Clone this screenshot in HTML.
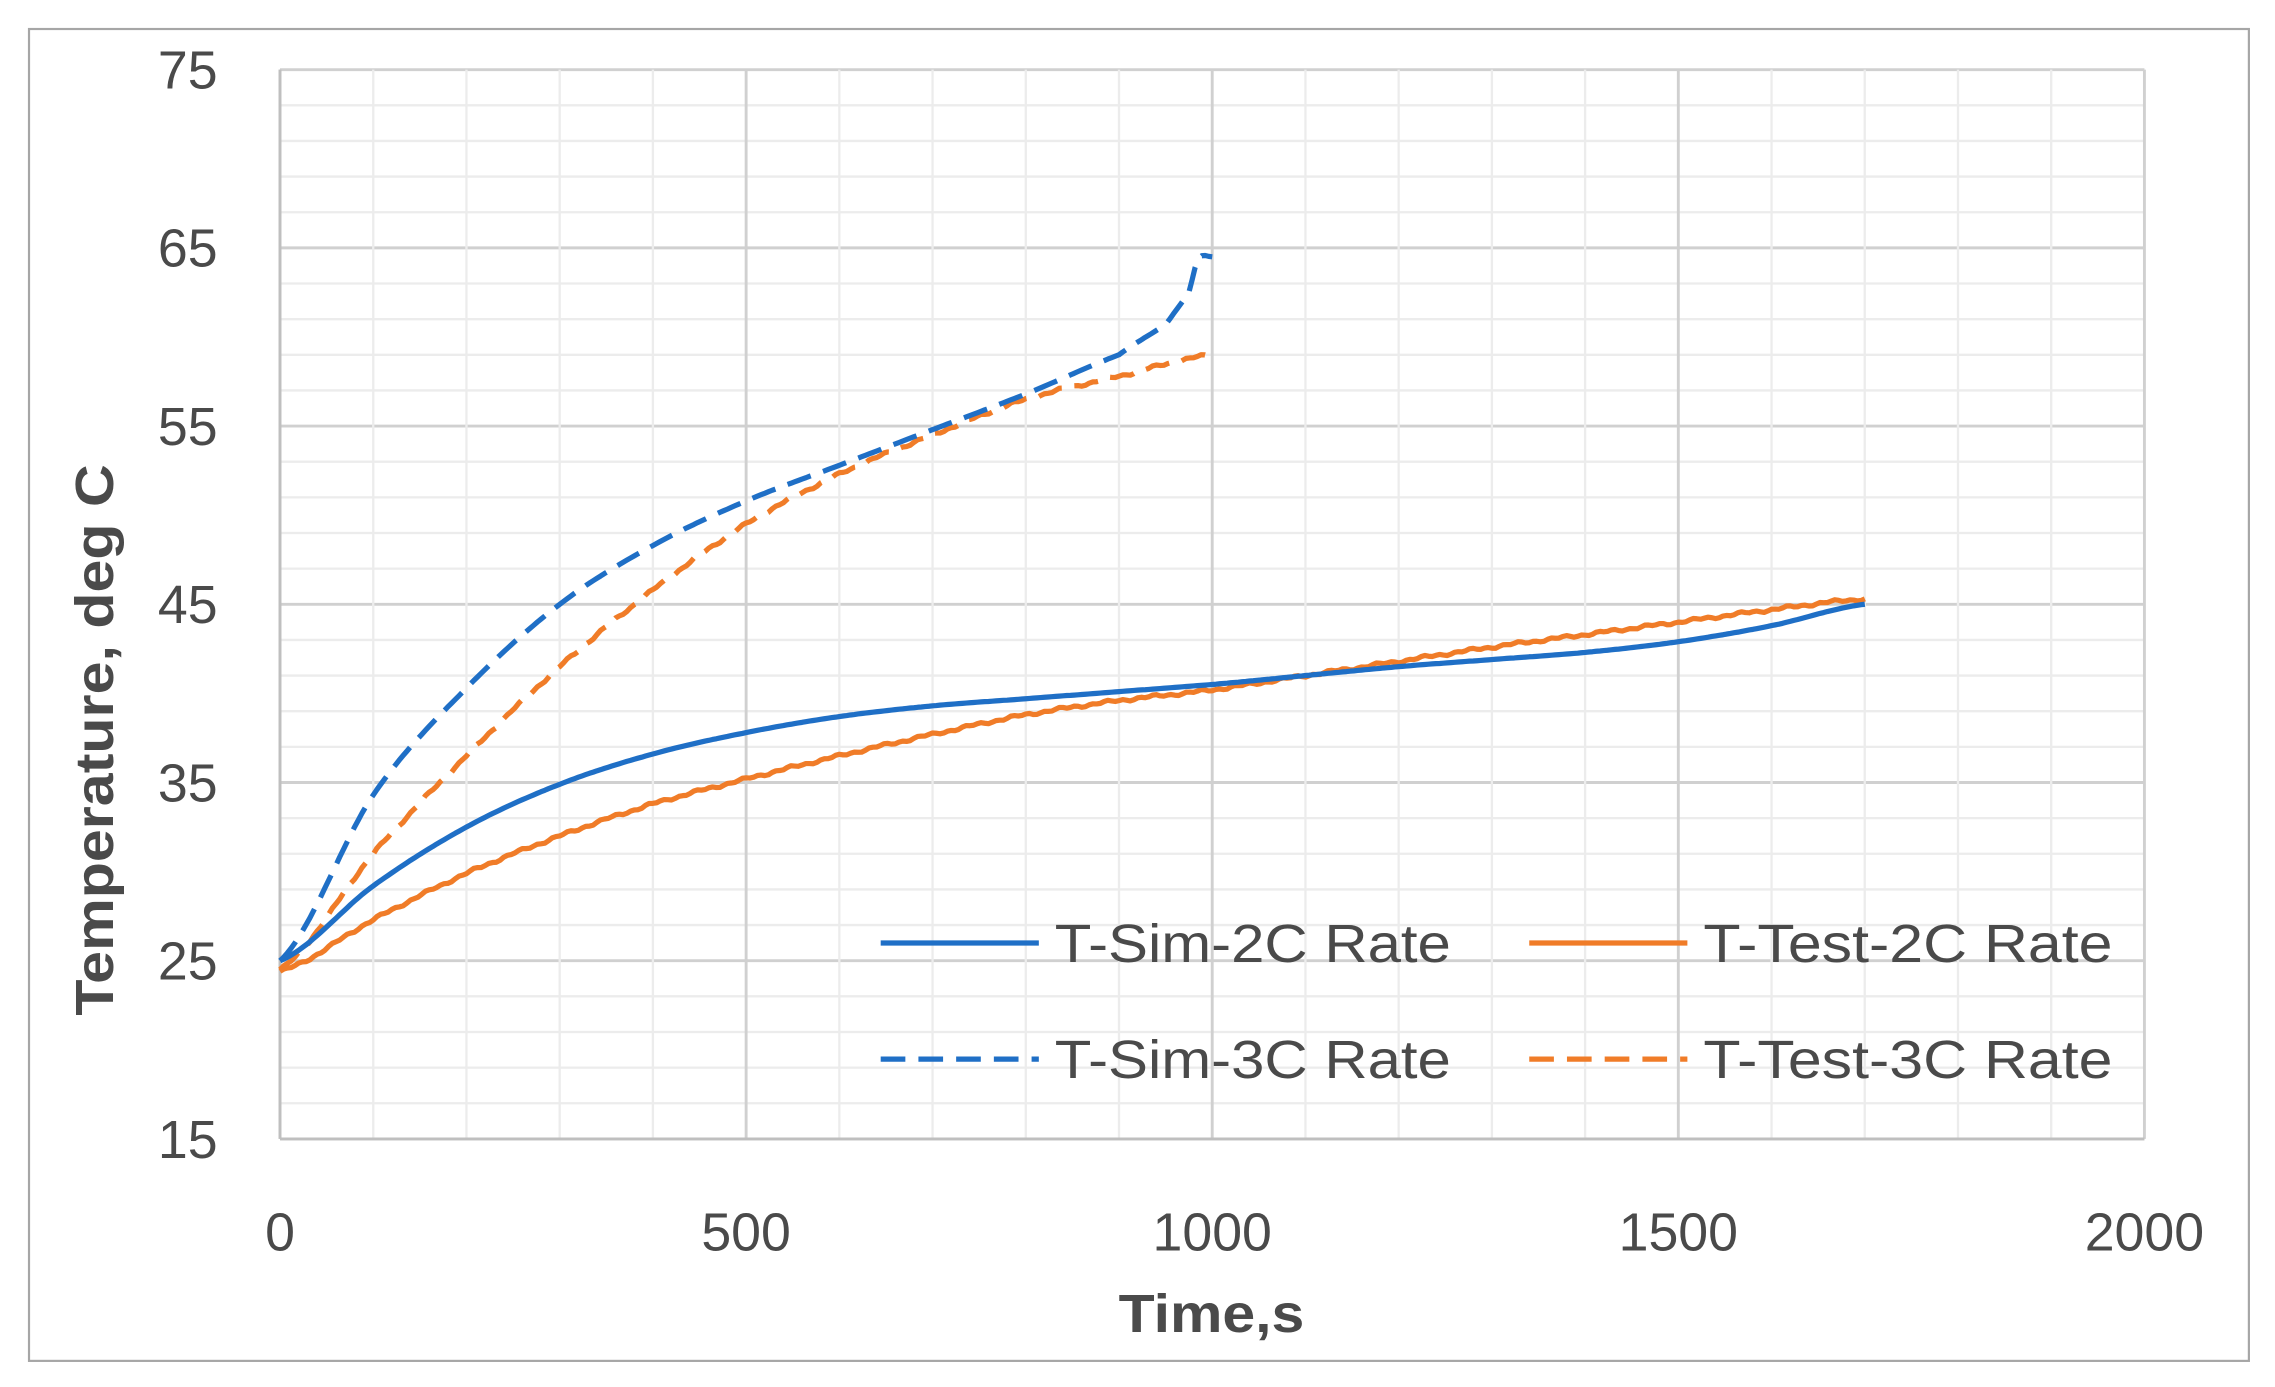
<!DOCTYPE html>
<html><head><meta charset="utf-8"><style>html,body{margin:0;padding:0;background:#fff}svg{display:block}</style></head>
<body>
<svg id="s" width="2275" height="1387" viewBox="0 0 1568 956" preserveAspectRatio="none" xmlns="http://www.w3.org/2000/svg" font-family="Liberation Sans, sans-serif">
<rect x="0" y="0" width="1568" height="956" fill="#fff"/>
<rect x="20" y="20" width="1530" height="918" fill="#fff" stroke="#a6a6a6" stroke-width="1.5"/>
<g id="grid"></g>
<g id="lab" fill="#4a4a4a" font-size="37"></g>
<g id="ser" fill="none" stroke-width="3.6" stroke-linejoin="round" stroke-linecap="butt"></g>
<g id="leg"></g>
</svg>
<script>
var NS="http://www.w3.org/2000/svg";
function X(t){return 193+t*0.6425;}
function Y(T){return 785-(T-15)*12.283;}
function el(p,n,a,txt){var e=document.createElementNS(NS,n);for(var k in a)e.setAttribute(k,a[k]);if(txt!=null)e.textContent=txt;document.getElementById(p).appendChild(e);return e;}
for(var T=15;T<=75;T+=2){var maj=(T-15)%10==0;el("grid","line",{x1:193,x2:1478,y1:Y(T),y2:Y(T),stroke:maj?"#d0d0d0":"#ececec","stroke-width":maj?2:1.6});}
for(var t=0;t<=2000;t+=100){var maj=t%500==0;el("grid","line",{x1:X(t),x2:X(t),y1:48,y2:785,stroke:maj?"#d0d0d0":"#ececec","stroke-width":maj?2:1.6});}
el("grid","line",{x1:193,x2:193,y1:48,y2:785,stroke:"#bfbfbf","stroke-width":2});
el("grid","line",{x1:193,x2:1478,y1:785,y2:785,stroke:"#bfbfbf","stroke-width":2});
for(var T=15;T<=75;T+=10){el("lab","text",{x:150,y:Y(T)+13,"text-anchor":"end"},String(T));}
for(var t=0;t<=2000;t+=500){el("lab","text",{x:X(t),y:862,"text-anchor":"middle"},String(t));}
el("lab","text",{x:835,y:918,"text-anchor":"middle","font-weight":"bold",textLength:128,lengthAdjust:"spacingAndGlyphs"},"Time,s");
el("lab","text",{x:0,y:0,"text-anchor":"middle","font-weight":"bold",transform:"translate(78,510) rotate(-90)",textLength:380,lengthAdjust:"spacingAndGlyphs"},"Temperature, deg C");
function interp(pts,step,noise){var out=[];for(var i=0;i<pts.length-1;i++){var a=pts[i],b=pts[i+1];var p0=pts[Math.max(0,i-1)],p3=pts[Math.min(pts.length-1,i+2)];var n=Math.max(1,Math.round((b[0]-a[0])/step));for(var j=0;j<n;j++){var u=j/n;var u2=u*u,u3=u2*u;
var y=0.5*((2*a[1])+(-p0[1]+b[1])*u+(2*p0[1]-5*a[1]+4*b[1]-p3[1])*u2+(-p0[1]+3*a[1]-3*b[1]+p3[1])*u3);var x=a[0]+(b[0]-a[0])*u;
if(noise)y+=(Math.sin(x*1.7)+Math.sin(x*0.37))*noise;out.push(X(x).toFixed(1)+","+Y(y).toFixed(1));}}
var l=pts[pts.length-1];out.push(X(l[0]).toFixed(1)+","+Y(l[1]).toFixed(1));return out.join(" ");}
var blue="#1F6FC6",orange="#F07C28";
var s2=[[0,25],[100,29.2],[200,32.5],[300,34.9],[400,36.6],[500,37.8],[600,38.7],[700,39.3],[800,39.7],[900,40.1],[1000,40.5],[1100,41],[1200,41.5],[1300,41.9],[1400,42.3],[1500,42.9],[1600,43.8],[1700,45]];
var t2=[[0,24.4],[100,27.3],[200,29.9],[300,32],[400,33.8],[500,35.2],[600,36.5],[700,37.7],[800,38.8],[900,39.6],[1000,40.2],[1100,41],[1200,41.8],[1300,42.6],[1400,43.3],[1500,44],[1600,44.7],[1700,45.3]];
var s3=[[0,25],[100,34.3],[200,40.3],[300,45],[400,48.3],[500,50.8],[600,52.8],[700,54.8],[800,56.8],[900,59],[950,60.7],[975,62.5],[985,64.4],[1000,64.5]];
var t3=[[0,24.5],[100,31],[200,36.5],[300,41.5],[400,45.8],[500,49.5],[600,52.3],[700,54.5],[800,56.5],[900,57.8],[1000,59]];
el("ser","polyline",{points:interp(t3,4,0.05),stroke:orange,"stroke-dasharray":"17 9"});
el("ser","polyline",{points:interp(s3,4,0),stroke:blue,"stroke-dasharray":"17 9"});
el("ser","polyline",{points:interp(t2,4,0.05),stroke:orange});
el("ser","polyline",{points:interp(s2,4,0),stroke:blue});
function leg(x1,y,col,dash,txt){var a={x1:x1,x2:x1+109,y1:y,y2:y,stroke:col,"stroke-width":3.6};if(dash)a["stroke-dasharray"]="17 9";el("leg","line",a);
el("leg","text",{x:x1+120,y:y+13,fill:"#4a4a4a","font-size":37,textLength:txt.indexOf("Test")>=0?282:273,lengthAdjust:"spacingAndGlyphs"},txt);}
leg(607,650,blue,false,"T-Sim-2C Rate");
leg(1054,650,orange,false,"T-Test-2C Rate");
leg(607,730,blue,true,"T-Sim-3C Rate");
leg(1054,730,orange,true,"T-Test-3C Rate");
</script>
</body></html>
